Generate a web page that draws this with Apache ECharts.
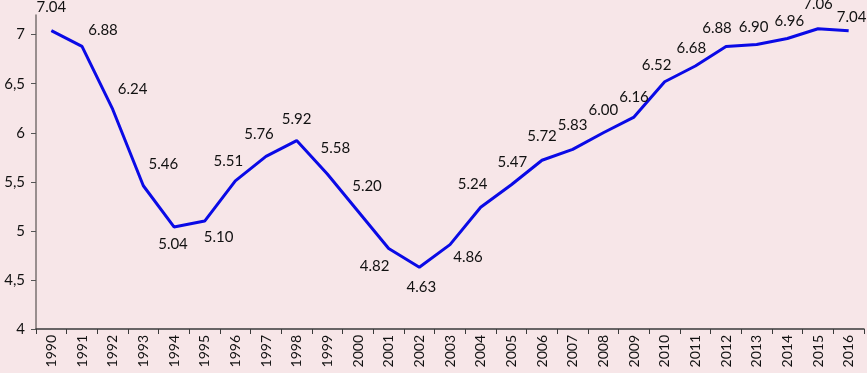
<!DOCTYPE html>
<html>
<head>
<meta charset="utf-8">
<script src="https://cdn.jsdelivr.net/npm/echarts@6/dist/echarts.min.js"></script>
<style>
  html, body { margin: 0; padding: 0; background: #F7E6E8; }
  #chart { width: 867px; height: 373px; }
</style>
</head>
<body>
<div id="chart"></div>
<script>
const years = ['1990', '1991', '1992', '1993', '1994', '1995', '1996', '1997', '1998',
  '1999', '2000', '2001', '2002', '2003', '2004', '2005', '2006', '2007', '2008',
  '2009', '2010', '2011', '2012', '2013', '2014', '2015', '2016']

const values = [7.04, 6.88, 6.24, 5.46, 5.04, 5.10, 5.51, 5.76, 5.92,
  5.58, 5.20, 4.82, 4.63, 4.86, 5.24, 5.47, 5.72, 5.83, 6.00,
  6.16, 6.52, 6.68, 6.88, 6.90, 6.96, 7.06, 7.04]

const yTicks = [4, 4.5, 5, 5.5, 6, 6.5, 7]

// where each value label sits relative to its point (dx, dy of the label centre)
const labelOffsets = [
  [0, -24], [21, -16], [20, -20], [20, -22], [-1, 17], [14, 16], [-7, -20], [-7, -22], [0, -21],
  [8, -26], [9, -25], [-14, 18], [2, 20], [18, 13], [-8, -23], [1, -23], [0, -24], [0, -24], [0, -23],
  [0, -20], [-8, -17], [-4, -18], [-9, -18], [-3, -17], [2, -17], [0, -25], [3, -14],
]

const FONT = 'Lato, "Open Sans", sans-serif'

const chart = echarts.init(document.getElementById('chart'))

chart.setOption({
  backgroundColor: '#F7E6E8',
  animation: false,
  grid: { left: 36, right: 3, top: 15, bottom: 44 },
  xAxis: {
    type: 'category',
    data: years,
    boundaryGap: true,
    axisLine: { lineStyle: { color: '#3a3a3a', width: 1.5 } },
    axisTick: { show: true, length: 5, lineStyle: { color: '#3a3a3a' } },
    axisLabel: {
      rotate: 90,
      interval: 0,
      margin: 6,
      fontSize: 14,
      color: '#111',
      fontFamily: FONT,
    },
    splitLine: { show: false },
  },
  yAxis: {
    type: 'value',
    min: 4,
    max: 7.2,
    interval: 0.5,
    axisLine: { show: true, lineStyle: { color: '#7a7070', width: 1.5 } },
    axisTick: { show: true, length: 5, customValues: yTicks, lineStyle: { color: '#555' } },
    axisLabel: {
      customValues: yTicks,
      margin: 11,
      fontSize: 15,
      color: '#111',
      fontFamily: FONT,
      formatter: (v) => String(v).replace('.', ','),
    },
    splitLine: { show: false },
  },
  series: [{
    type: 'line',
    data: values.map((v, i) => ({
      value: v,
      label: { offset: labelOffsets[i] },
    })),
    symbol: 'circle',
    symbolSize: 1,
    showSymbol: true,
    itemStyle: { color: 'rgba(0,0,0,0)' },
    lineStyle: { color: '#0A0AE6', width: 3 },
    label: {
      show: true,
      position: 'inside',
      fontSize: 15,
      color: '#111',
      fontFamily: FONT,
      formatter: (p) => p.value.toFixed(2),
    },
  }],
})
</script>
</body>
</html>
